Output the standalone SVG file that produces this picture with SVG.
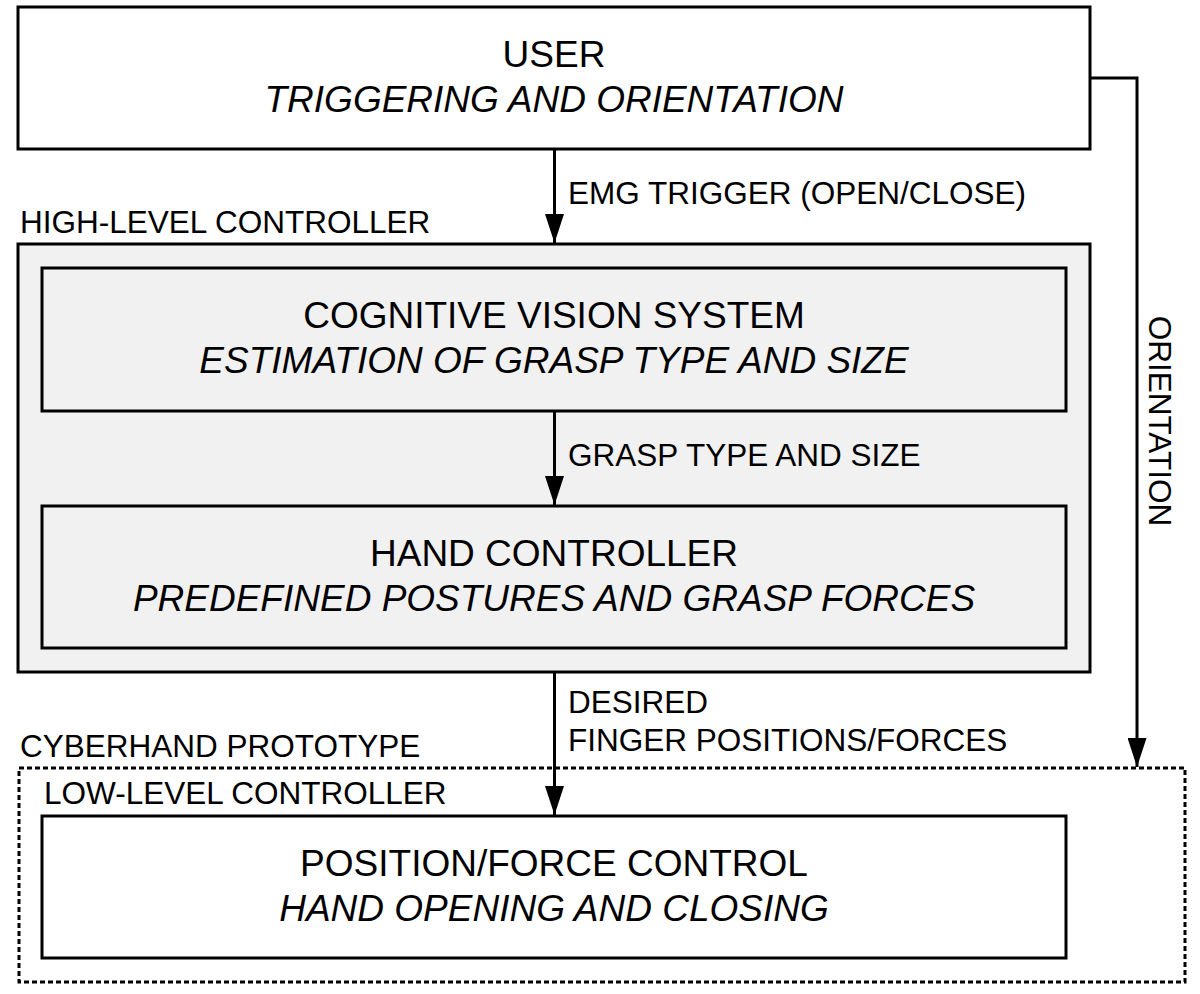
<svg xmlns="http://www.w3.org/2000/svg" width="1200" height="994" viewBox="0 0 1200 994">
<style>
  text { font-family: "Liberation Sans", Arial, sans-serif; fill: #000; }
  .title { font-size: 37px; text-anchor: middle; }
  .sub { font-size: 37px; font-style: italic; text-anchor: middle; }
  .lbl { font-size: 31.5px; }
  .box { fill: #fff; stroke: #000; stroke-width: 3; }
  .gbox { fill: #f1f1f1; stroke: #000; stroke-width: 3; }
  .dash { fill: none; stroke: #000; stroke-width: 3; stroke-dasharray: 5 3; }
  .conn { fill: none; stroke: #000; stroke-width: 3; }
</style>
<defs>
  <marker id="arr" markerWidth="29" markerHeight="19" refX="29" refY="9.5" viewBox="0 0 29 19" markerUnits="userSpaceOnUse" orient="auto">
    <path d="M0,0 L29,9.5 L0,19 Z" fill="#000"/>
  </marker>
</defs>

<g id="cyberhand-prototype">
  <rect class="dash" x="19" y="768" width="1166" height="214"/>
  <text class="lbl" x="20" y="757">CYBERHAND PROTOTYPE</text>
  <text class="lbl" x="44" y="804">LOW-LEVEL CONTROLLER</text>
</g>

<g id="user">
  <rect class="box" x="18" y="7" width="1072" height="142"/>
  <text class="title" x="554" y="67">USER</text>
  <text class="sub" x="554" y="112">TRIGGERING AND ORIENTATION</text>
</g>

<g id="high-level-controller">
  <rect class="gbox" x="18" y="244" width="1072" height="428"/>
  <text class="lbl" x="20" y="233">HIGH-LEVEL CONTROLLER</text>
</g>

<g id="cognitive-vision">
  <rect class="gbox" x="42" y="268" width="1024" height="143"/>
  <text class="title" x="554" y="328">COGNITIVE VISION SYSTEM</text>
  <text class="sub" x="554" y="373">ESTIMATION OF GRASP TYPE AND SIZE</text>
</g>

<g id="hand-controller">
  <rect class="gbox" x="42" y="506" width="1024" height="142"/>
  <text class="title" x="554" y="566">HAND CONTROLLER</text>
  <text class="sub" x="554" y="611">PREDEFINED POSTURES AND GRASP FORCES</text>
</g>

<g id="position-force-control">
  <rect class="box" x="42" y="816" width="1024" height="142"/>
  <text class="title" x="554" y="876">POSITION/FORCE CONTROL</text>
  <text class="sub" x="554" y="921">HAND OPENING AND CLOSING</text>
</g>

<g id="connectors">
  <line class="conn" x1="554.5" y1="149" x2="554.5" y2="243" marker-end="url(#arr)"/>
  <text class="lbl" x="568" y="204">EMG TRIGGER (OPEN/CLOSE)</text>
  <line class="conn" x1="554.5" y1="411" x2="554.5" y2="505" marker-end="url(#arr)"/>
  <text class="lbl" x="568" y="466">GRASP TYPE AND SIZE</text>
  <line class="conn" x1="554.5" y1="672" x2="554.5" y2="815" marker-end="url(#arr)"/>
  <text class="lbl" x="568" y="713">DESIRED</text>
  <text class="lbl" x="568" y="751">FINGER POSITIONS/FORCES</text>
  <polyline class="conn" points="1090,78 1137,78 1137,767" marker-end="url(#arr)"/>
  <text class="lbl" transform="translate(1149,421) rotate(90)" text-anchor="middle">ORIENTATION</text>
</g>
</svg>
